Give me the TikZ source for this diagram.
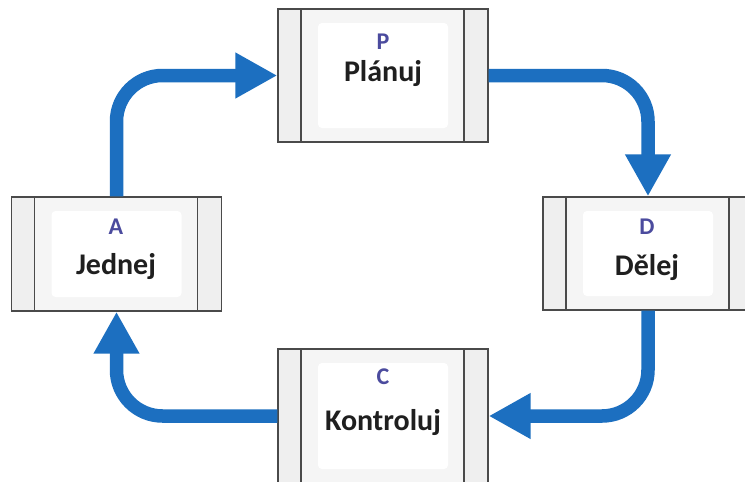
\documentclass[tikz,border=0pt]{standalone}
\usepackage{fontspec}
\setmainfont{Carlito}
\usetikzlibrary{arrows.meta}
\definecolor{cycleblue}{HTML}{1C6FC0}
\definecolor{letterpurple}{HTML}{4B4B9E}
\definecolor{frameedge}{HTML}{4A4A4A}
\definecolor{panelgray}{HTML}{EFEFEF}
\definecolor{middlegray}{HTML}{F5F5F5}
\tikzset{
  stage/.style={rectangle, draw=frameedge, line width=1.4pt, fill=panelgray,
    inner sep=0pt, minimum width=210pt,
    path picture={
      \fill[middlegray] ([xshift=23pt]path picture bounding box.north west)
        rectangle ([xshift=-24pt]path picture bounding box.south east);
      \fill[white, rounded corners=4pt] ([xshift=40pt,yshift=-14pt]path picture bounding box.north west)
        rectangle ([xshift=-40pt,yshift=14pt]path picture bounding box.south east);
      \draw[frameedge, line width=1.2pt]
        ([xshift=23pt]path picture bounding box.north west) --
        ([xshift=23pt]path picture bounding box.south west);
      \draw[frameedge, line width=1.2pt]
        ([xshift=-24pt]path picture bounding box.north east) --
        ([xshift=-24pt]path picture bounding box.south east);
    }},
  letter/.style={font=\bfseries\fontsize{24}{26}\selectfont, text=letterpurple, inner sep=0pt},
  label/.style={font=\bfseries\fontsize{30}{33}\selectfont, text=black!88, inner sep=0pt},
  flow/.style={draw=cycleblue, line width=13.5pt, rounded corners=46pt,
    -{Triangle[length=42pt,width=43pt]}}
}
\begin{document}
\begin{tikzpicture}[x=1pt,y=-1pt]
  \useasboundingbox[fill=white] (0,0) rectangle (745,482);

  % the four stages
  \node[stage, minimum height=133pt] (P) at (383,75.5) {};
  \node[stage, minimum height=114pt] (A) at (116.5,254) {};
  \node[stage, minimum height=113pt] (D) at (648,253.5) {};
  \node[stage, minimum height=134pt] (C) at (383,416) {};

  % stage captions
  \node[letter] (Pl) at (383,42) {P};
  \node[label]  (Pt) at (383,74) {Plánuj};
  \node[letter] (Al) at (116,227) {A};
  \node[label]  (At) at (116,267) {Jednej};
  \node[letter] (Dl) at (647,227) {D};
  \node[label]  (Dt) at (647,268) {Dělej};
  \node[letter] (Cl) at (383,377) {C};
  \node[label]  (Ct) at (383,423) {Kontroluj};

  % cycle arrows
  \draw[flow] (A.north) |- (P.west);
  \draw[flow] (P.east) -| (D.north);
  \draw[flow] (D.south) |- (C.east);
  \draw[flow] (C.west) -| (A.south);
\end{tikzpicture}
\end{document}
